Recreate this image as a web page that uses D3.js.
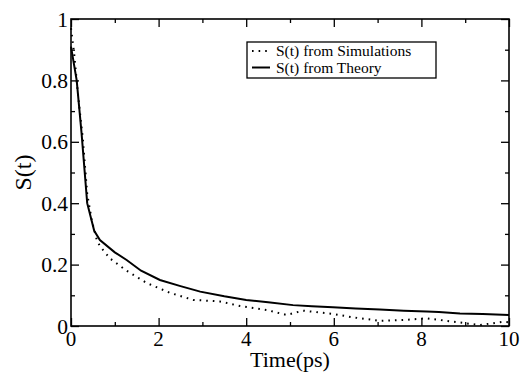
<!DOCTYPE html>
<html>
<head>
<meta charset="utf-8">
<script src="https://cdn.jsdelivr.net/npm/d3@7"></script>
<style>
  body { margin: 0; background: #fff; }
  text { font-family: "Liberation Serif", "Times New Roman", serif; }
</style>
</head>
<body>
<div id="vis"></div>
<script>
// chart data
const simTime = [0, 0.07, 0.17, 0.27, 0.37, 0.48, 0.59, 0.66, 0.89, 1.27, 1.73, 2.26, 2.79, 3.4, 3.86, 4.47, 4.92, 5.3, 5.99, 6.45, 7.05, 7.66, 8.12, 8.73, 9.34, 9.87, 10];
const simValue = [0.97, 0.89, 0.74, 0.61, 0.43, 0.34, 0.28, 0.26, 0.22, 0.18, 0.14, 0.108, 0.085, 0.08, 0.065, 0.052, 0.036, 0.05, 0.039, 0.028, 0.017, 0.02, 0.025, 0.014, 0.003, 0.014, 0.012];
const theoryTime = [0, 0.13, 0.24, 0.37, 0.53, 0.66, 1.0, 1.27, 1.6, 2.03, 2.5, 2.95, 3.5, 4.0, 4.5, 5.07, 5.5, 5.98, 6.5, 7.05, 7.6, 8.12, 8.4, 8.88, 9.4, 10];
const theoryValue = [0.91, 0.80, 0.63, 0.40, 0.31, 0.28, 0.24, 0.215, 0.18, 0.15, 0.13, 0.112, 0.097, 0.085, 0.077, 0.068, 0.064, 0.061, 0.057, 0.054, 0.05, 0.047, 0.046, 0.041, 0.039, 0.036];
const xTicks = [0, 2, 4, 6, 8, 10];
const yTicks = [0, 0.2, 0.4, 0.6, 0.8, 1];
const seriesNames = ['S(t) from Simulations', 'S(t) from Theory'];

const width = 523;
const height = 373;

// plot area
const margin = { top: 19, left: 71, right: 14, bottom: 47 };

let svg = d3.select('#vis')
    .append('svg')
    .attr('width', width)
    .attr('height', height);

let xScale = d3.scaleLinear()
    .domain([0, 10])
    .range([margin.left, width - margin.right]);

let yScale = d3.scaleLinear()
    .domain([0, 1])
    .range([height - margin.bottom, margin.top]);

const x0 = xScale(0), x1 = xScale(10), y0 = yScale(0), y1 = yScale(1);

// ticks pointing inward on all four sides
function tickAxis(axisFn, scale, major, minor, tr) {
    let g = svg.append('g').attr('transform', tr);
    g.call(axisFn(scale).tickValues(minor).tickSize(-4).tickFormat(''));
    let g2 = svg.append('g').attr('transform', tr);
    g2.call(axisFn(scale).tickValues(major).tickSize(-8).tickFormat(''));
    [g, g2].forEach(s => {
        s.select('.domain').remove();
        s.selectAll('line').attr('stroke', '#000').attr('stroke-width', 1.3);
    });
}
const xMinor = [1, 3, 5, 7, 9];
const yMinor = [0.1, 0.3, 0.5, 0.7, 0.9];
tickAxis(d3.axisBottom, xScale, xTicks, xMinor, `translate(0,${y0})`);
tickAxis(d3.axisTop, xScale, xTicks, xMinor, `translate(0,${y1})`);
tickAxis(d3.axisLeft, yScale, yTicks, yMinor, `translate(${x0},0)`);
tickAxis(d3.axisRight, yScale, yTicks, yMinor, `translate(${x1},0)`);

// frame
svg.append('rect')
    .attr('x', x0).attr('y', y1)
    .attr('width', x1 - x0).attr('height', y0 - y1)
    .attr('fill', 'none')
    .attr('stroke', '#000')
    .attr('stroke-width', 1.6);

// tick labels
svg.selectAll('.xlab')
    .data(xTicks)
    .join('text')
    .attr('class', 'xlab')
    .attr('x', d => xScale(d))
    .attr('y', y0 + 20)
    .attr('text-anchor', 'middle')
    .attr('font-size', '21px')
    .text(d => d);

svg.selectAll('.ylab')
    .data(yTicks)
    .join('text')
    .attr('class', 'ylab')
    .attr('x', x0 - 3)
    .attr('y', d => yScale(d) + 7.5)
    .attr('text-anchor', 'end')
    .attr('font-size', '21.5px')
    .text(d => d);

// axis titles
svg.append('text')
    .attr('x', (x0 + x1) / 2)
    .attr('y', 367)
    .attr('text-anchor', 'middle')
    .attr('font-size', '22px')
    .text('Time(ps)');

svg.append('text')
    .attr('transform', `translate(31,${(y0 + y1) / 2}) rotate(-90)`)
    .attr('text-anchor', 'middle')
    .attr('font-size', '24px')
    .text('S(t)');

// curves
const line = d3.line()
    .x(d => xScale(d[0]))
    .y(d => yScale(d[1]));

svg.append('path')
    .datum(d3.zip(simTime, simValue))
    .attr('d', line)
    .attr('fill', 'none')
    .attr('stroke', '#000')
    .attr('stroke-width', 2)
    .attr('stroke-dasharray', '1.6,5');

svg.append('path')
    .datum(d3.zip(theoryTime, theoryValue))
    .attr('d', line)
    .attr('fill', 'none')
    .attr('stroke', '#000')
    .attr('stroke-width', 2);

// legend
let legend = svg.append('g');
legend.append('rect')
    .attr('x', 247).attr('y', 42)
    .attr('width', 189).attr('height', 36)
    .attr('fill', '#fff')
    .attr('stroke', '#000')
    .attr('stroke-width', 1.3);

seriesNames.forEach((name, i) => {
    let cy = 51 + i * 16.5;
    legend.append('line')
        .attr('x1', 252).attr('x2', 270)
        .attr('y1', cy).attr('y2', cy)
        .attr('stroke', '#000')
        .attr('stroke-width', 2)
        .attr('stroke-dasharray', i === 0 ? '1.6,5' : null);
    legend.append('text')
        .attr('x', 276)
        .attr('y', cy + 5)
        .attr('font-size', '15.5px')
        .text(name);
});
</script>
</body>
</html>
